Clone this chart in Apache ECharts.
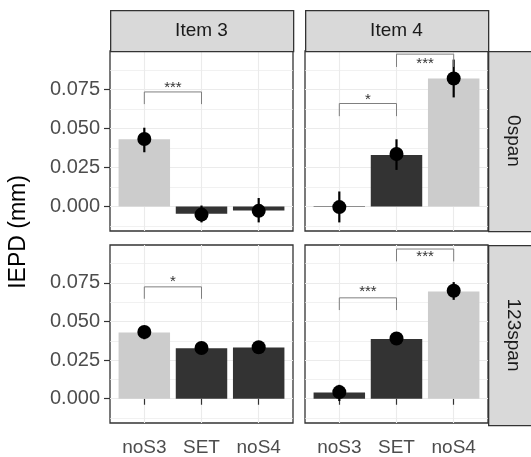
<!DOCTYPE html>
<html><head><meta charset="utf-8">
<script src="https://cdn.jsdelivr.net/npm/echarts@6/dist/echarts.min.js"></script>
<style>html,body{margin:0;padding:0;background:#fff}#c{width:531px;height:457px}</style>
</head><body><div id="c"></div>
<script>
// ---- data ----
const categories = ['noS3', 'SET', 'noS4'];
const items = ['Item 3', 'Item 4'];
const spans = ['0span', '123span'];
const yTicks = [0, 0.025, 0.05, 0.075];
const yMinorTicks = [-0.0125, 0.0125, 0.0375, 0.0625, 0.0875];
const yTickLabels = ['0.000', '0.025', '0.050', '0.075'];

const shadeItem3 = ['light', 'dark', 'dark'];
const shadeItem4 = ['dark', 'dark', 'light'];

const bar0Item3 = [0.0430, -0.0047, -0.0026];
const pt0Item3 = [0.0432, -0.0052, -0.0028];
const lo0Item3 = [0.0347, -0.0102, -0.0102];
const hi0Item3 = [0.0504, 0.0006, 0.0054];

const bar0Item4 = [-0.0004, 0.0330, 0.0819];
const pt0Item4 = [-0.0004, 0.0336, 0.0819];
const lo0Item4 = [-0.0102, 0.0234, 0.0698];
const hi0Item4 = [0.0096, 0.0430, 0.0940];

const bar123Item3 = [0.0428, 0.0326, 0.0332];
const pt123Item3 = [0.0432, 0.0328, 0.0333];
const lo123Item3 = [0.0385, 0.0300, 0.0305];
const hi123Item3 = [0.0470, 0.0355, 0.0360];

const bar123Item4 = [0.0040, 0.0386, 0.0694];
const pt123Item4 = [0.0043, 0.0390, 0.0699];
const lo123Item4 = [-0.0015, 0.0360, 0.0640];
const hi123Item4 = [0.0090, 0.0420, 0.0755];

// significance brackets: [from, to, lineY, tipY, labelY]
const sig0Item3 = [[1, 2, 0.0733, 0.0655, 0.0761]];
const sigLab0Item3 = ['***'];
const sig0Item4 = [[1, 2, 0.0659, 0.0578, 0.0685], [2, 3, 0.0975, 0.0893, 0.0915]];
const sigLab0Item4 = ['*', '***'];
const sig123Item3 = [[1, 2, 0.0724, 0.0647, 0.0756]];
const sigLab123Item3 = ['*'];
const sig123Item4 = [[1, 2, 0.0653, 0.0574, 0.0690], [2, 3, 0.0969, 0.0889, 0.0921]];
const sigLab123Item4 = ['***', '***'];

// ---- layout / style ----
const FONT = 'Liberation Sans, Arial, sans-serif';
const shadeColor = {light: '#cccccc', dark: '#333333'};
const Y_MIN = -0.0157, Y_MAX = 0.0995;
const panelW = 183, panelH = 180;
const colLeft = [110, 305];
const rowTop = [51, 245];

const panels = [
  {row: 0, col: 0, bar: bar0Item3, pt: pt0Item3, lo: lo0Item3, hi: hi0Item3, shade: shadeItem3, sig: sig0Item3, sigLab: sigLab0Item3},
  {row: 0, col: 1, bar: bar0Item4, pt: pt0Item4, lo: lo0Item4, hi: hi0Item4, shade: shadeItem4, sig: sig0Item4, sigLab: sigLab0Item4},
  {row: 1, col: 0, bar: bar123Item3, pt: pt123Item3, lo: lo123Item3, hi: hi123Item3, shade: shadeItem3, sig: sig123Item3, sigLab: sigLab123Item3},
  {row: 1, col: 1, bar: bar123Item4, pt: pt123Item4, lo: lo123Item4, hi: hi123Item4, shade: shadeItem4, sig: sig123Item4, sigLab: sigLab123Item4}
];

const grid = [], xAxis = [], yAxis = [], series = [];
const gridColor = '#ebebeb';
panels.forEach((p, k) => {
  const bottom = p.row === 1, left = p.col === 0;
  grid.push({left: colLeft[p.col], top: rowTop[p.row], width: panelW, height: panelH,
    show: true, backgroundColor: '#fff', borderColor: '#333333', borderWidth: 1.3, z: 0});
  xAxis.push({type: 'value', gridIndex: k, min: 0.4, max: 3.6,
    axisLine: {show: false},
    axisTick: {show: bottom, customValues: categories.map((c, i) => i + 1), length: 6, lineStyle: {color: '#333', width: 1.2}},
    axisLabel: {show: bottom, customValues: categories.map((c, i) => i + 1), margin: 15,
      formatter: v => categories[Math.round(v) - 1], color: '#4d4d4d', fontSize: 19, fontFamily: FONT},
    splitLine: {show: true, lineStyle: {color: gridColor, width: 1.1}}});
  yAxis.push({type: 'value', gridIndex: k, min: Y_MIN, max: Y_MAX,
    axisLine: {show: false},
    axisTick: {show: left, customValues: yTicks, length: 6, lineStyle: {color: '#333', width: 1.2}},
    axisLabel: {show: left, customValues: yTicks, margin: 10,
      formatter: v => yTickLabels[yTicks.findIndex(t => Math.abs(t - v) < 1e-9)],
      color: '#4d4d4d', fontSize: 20, fontFamily: FONT},
    splitLine: {show: true, lineStyle: {color: gridColor, width: 1.1}}});
  const minorIdx = yAxis.length;
  yAxis.push({type: 'value', gridIndex: k, min: Y_MIN, max: Y_MAX, position: 'left',
    axisLine: {show: false},
    axisTick: {show: false, customValues: yMinorTicks},
    axisLabel: {show: false, customValues: yMinorTicks},
    splitLine: {show: true, lineStyle: {color: gridColor, width: 0.7}}});
  const yIdx = minorIdx - 1;
  series.push({type: 'bar', xAxisIndex: k, yAxisIndex: yIdx, barWidth: '90%', silent: true,
    data: p.bar.map((v, i) => ({value: [i + 1, v], itemStyle: {color: shadeColor[p.shade[i]]}})), z: 2});
  series.push({type: 'custom', xAxisIndex: k, yAxisIndex: yIdx, silent: true, z: 3,
    data: p.lo.map((v, i) => [i + 1, v, p.hi[i]]),
    renderItem: (params, api) => {
      const a = api.coord([api.value(0), api.value(1)]);
      const b = api.coord([api.value(0), api.value(2)]);
      return {type: 'line', shape: {x1: a[0], y1: a[1], x2: b[0], y2: b[1]}, style: {stroke: '#000', lineWidth: 2.2}};
    }});
  series.push({type: 'scatter', xAxisIndex: k, yAxisIndex: yIdx, silent: true, z: 4,
    symbolSize: 14, itemStyle: {color: '#000', opacity: 1},
    data: p.pt.map((v, i) => [i + 1, v])});
  series.push({type: 'custom', xAxisIndex: k, yAxisIndex: yIdx, silent: true, z: 5,
    data: p.sig,
    renderItem: (params, api) => {
      const x1 = api.value(0), x2 = api.value(1), y = api.value(2), t = api.value(3), ly = api.value(4);
      const p1 = api.coord([x1, t]), p2 = api.coord([x1, y]), p3 = api.coord([x2, y]), p4 = api.coord([x2, t]);
      const lab = api.coord([(x1 + x2) / 2, ly]);
      return {type: 'group', children: [
        {type: 'polyline', shape: {points: [p1, p2, p3, p4]}, style: {stroke: '#7f7f7f', lineWidth: 1, fill: null}},
        {type: 'text', x: lab[0], y: lab[1], style: {text: p.sigLab[params.dataIndex], align: 'center', verticalAlign: 'middle',
          fontSize: 15, fontFamily: FONT, fill: '#333', letterSpacing: 1}}
      ]};
    }});
});

const stripStyle = {fill: '#d9d9d9', stroke: '#333333', lineWidth: 1.3};
const graphic = [];
items.forEach((name, c) => {
  graphic.push({type: 'rect', left: colLeft[c], top: 10, shape: {width: panelW, height: 41}, style: stripStyle, z: 10});
  graphic.push({type: 'text', x: colLeft[c] + panelW / 2, y: 31, style: {text: name, align: 'center', verticalAlign: 'middle',
    fontSize: 19, fontFamily: FONT, fill: '#1a1a1a'}, z: 11});
});
spans.forEach((name, r) => {
  graphic.push({type: 'rect', left: colLeft[1] + panelW, top: rowTop[r], shape: {width: 52, height: panelH}, style: stripStyle, z: 10});
  graphic.push({type: 'text', x: colLeft[1] + panelW + 25, y: rowTop[r] + panelH / 2, rotation: -Math.PI / 2,
    style: {text: name, align: 'center', verticalAlign: 'middle', fontSize: 19, fontFamily: FONT, fill: '#1a1a1a'}, z: 11});
});
graphic.push({type: 'text', x: 19, y: 232, rotation: Math.PI / 2,
  style: {text: 'IEPD (mm)', align: 'center', verticalAlign: 'middle', fontSize: 23, fontFamily: FONT, fill: '#000'}, z: 11});

const chart = echarts.init(document.getElementById('c'), null, {renderer: 'canvas'});
chart.setOption({animation: false, backgroundColor: '#fff', grid, xAxis, yAxis, series, graphic});
</script></body></html>
